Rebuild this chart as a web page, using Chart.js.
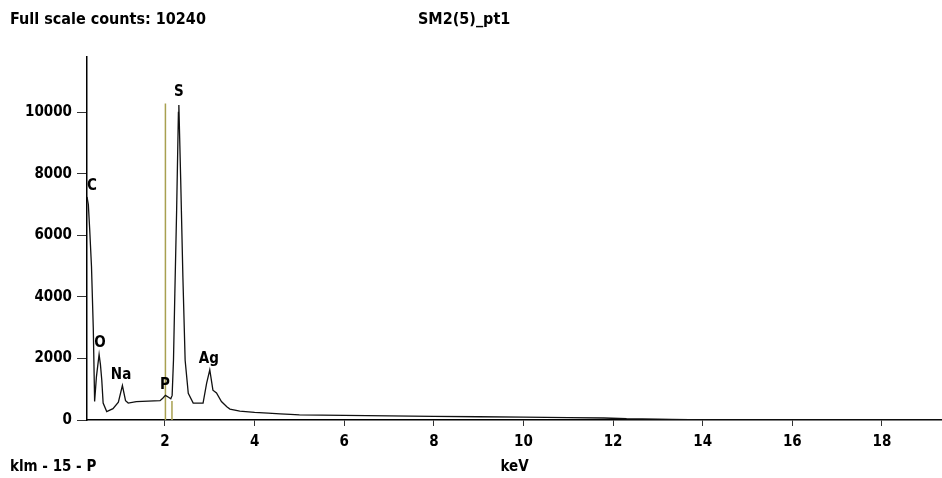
<!DOCTYPE html>
<html>
<head>
<meta charset="utf-8">
<script src="https://cdn.jsdelivr.net/npm/chart.js@4/dist/chart.umd.min.js"></script>
<style>
  html, body { margin: 0; padding: 0; background: #fff; }
  #spectrum { display: block; }
</style>
</head>
<body>
<canvas id="spectrum" width="942" height="478"></canvas>
<script>
// spectrum (keV, counts)
const energy = [0.26, 0.29, 0.32, 0.36, 0.40, 0.43, 0.47, 0.53, 0.56, 0.59, 0.62, 0.70, 0.84, 0.96, 1.05, 1.12, 1.18, 1.36, 1.89, 1.95, 2.01, 2.08, 2.13, 2.16, 2.19, 2.22, 2.26, 2.30, 2.31, 2.35, 2.40, 2.45, 2.52, 2.63, 2.85, 2.93, 3.00, 3.07, 3.15, 3.26, 3.38, 3.45, 3.67, 4.00, 4.30, 4.57, 4.80, 5.00, 6.00, 7.00, 8.00, 9.00, 10.00, 11.00, 11.80, 12.30, 13.00, 13.30, 13.70, 14.20, 19.40];
const counts = [7250, 7000, 6200, 5000, 3000, 600, 1400, 2130, 1800, 1290, 550, 275, 370, 580, 1120, 630, 550, 600, 630, 710, 800, 740, 690, 800, 1950, 4100, 6800, 10000, 10240, 7870, 4640, 1940, 870, 550, 550, 1200, 1630, 970, 880, 600, 430, 355, 290, 250, 225, 200, 185, 165, 150, 135, 120, 105, 95, 80, 65, 40, 30, 20, 8, 0, 0];

// element markers
const peakNames = ['C', 'O', 'Na', 'P', 'S', 'Ag'];
const peakKeV = [0.37, 0.55, 1.02, 2.0, 2.31, 2.98];
const peakLabelCounts = [7590, 2490, 1475, 1150, 10650, 1990];

// the two khaki marker lines
const markerKeV = [2.01, 2.156];
const markerTop = [10290, 620];

const xTicks = [2, 4, 6, 8, 10, 12, 14, 16, 18];
const yTicks = [0, 2000, 4000, 6000, 8000, 10000];

const FONT = '"DejaVu Sans Condensed", "DejaVu Sans", sans-serif';

const markerSets = markerKeV.map((k, i) => ({
  data: [{x: k, y: 0}, {x: k, y: markerTop[i]}],
  borderColor: '#a8a050',
  borderWidth: 1.5,
  pointRadius: 0,
  showLine: true
}));

const textPlugin = {
  id: 'texts',
  afterDatasetsDraw(chart) {
    const ctx = chart.ctx;
    const xs = chart.scales.x, ys = chart.scales.y;
    ctx.save();
    ctx.fillStyle = '#000';
    ctx.font = 'bold 15px ' + FONT;
    ctx.textBaseline = 'middle';
    ctx.textAlign = 'center';
    peakNames.forEach((n, i) => {
      ctx.fillText(n, xs.getPixelForValue(peakKeV[i]), ys.getPixelForValue(peakLabelCounts[i]));
    });
    ctx.textAlign = 'left';
    ctx.font = 'bold 16px ' + FONT;
    ctx.fillText('Full scale counts: 10240', 10, 20);
    ctx.fillText('SM2(5)_pt1', 418, 20);
    ctx.font = 'bold 15px ' + FONT;
    ctx.fillText('klm - 15 - P', 10, 467);
    ctx.restore();
  }
};

new Chart(document.getElementById('spectrum'), {
  type: 'scatter',
  data: {
    datasets: [{
      data: energy.map((e, i) => ({x: e, y: counts[i]})),
      borderColor: '#111',
      borderWidth: 1.3,
      pointRadius: 0,
      showLine: true,
      tension: 0
    }, ...markerSets]
  },
  options: {
    responsive: false,
    devicePixelRatio: 1,
    animation: false,
    layout: { padding: { top: 57, left: 0, right: 0, bottom: 0 } },
    plugins: { legend: { display: false }, tooltip: { enabled: false } },
    scales: {
      x: {
        type: 'linear',
        min: 0.26,
        max: 19.34,
        afterBuildTicks: s => { s.ticks = xTicks.map(v => ({value: v})); },
        afterFit: s => { s.height = 58; },
        border: { color: '#000', width: 1.5 },
        grid: { drawOnChartArea: false, tickLength: 6, color: '#333' },
        ticks: { color: '#000', padding: 7, maxRotation: 0, font: { family: FONT, size: 15, weight: 'bold' } },
        title: { display: true, text: 'keV', color: '#000', padding: { top: 0, bottom: 2 }, font: { family: FONT, size: 15, weight: 'bold' } }
      },
      y: {
        min: 0,
        max: 11800,
        afterBuildTicks: s => { s.ticks = yTicks.map(v => ({value: v})); },
        afterFit: s => { s.width = 87; },
        border: { color: '#000', width: 1.5 },
        grid: { drawOnChartArea: false, tickLength: 10, color: '#333' },
        ticks: { color: '#000', padding: 5, callback: v => String(v), font: { family: FONT, size: 15, weight: 'bold' } }
      }
    }
  },
  plugins: [textPlugin]
});
</script>
</body>
</html>
